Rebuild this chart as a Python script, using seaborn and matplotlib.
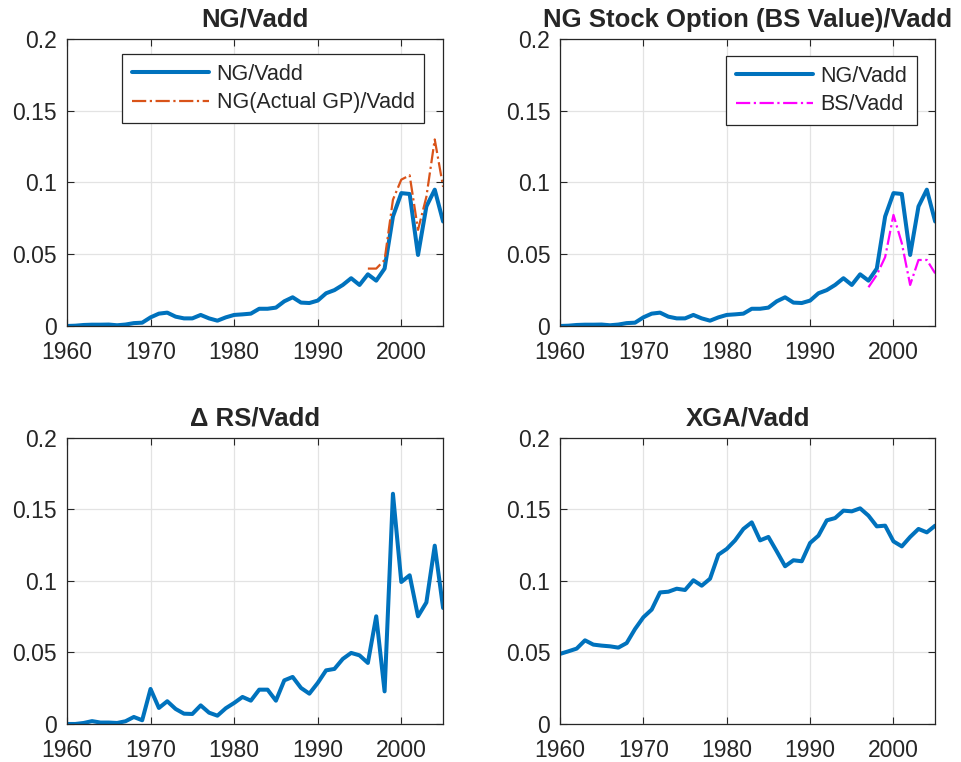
import numpy as np
import pandas as pd
import matplotlib
matplotlib.use("Agg")
import matplotlib.pyplot as plt
import seaborn as sns

# data
years = list(range(1960, 2006))

ng_vadd = [0.0, 0.0002, 0.0007, 0.0009, 0.0009, 0.001, 0.0005, 0.001, 0.002, 0.0023,
           0.006, 0.0086, 0.0093, 0.0065, 0.0053, 0.0053, 0.0077, 0.0053, 0.0037, 0.006,
           0.0077, 0.0081, 0.0086, 0.012, 0.012, 0.0128, 0.0172, 0.020, 0.0163, 0.016,
           0.0177, 0.0228, 0.025, 0.0286, 0.0333, 0.0286, 0.036, 0.0316, 0.040, 0.0763,
           0.0926, 0.092, 0.0495, 0.0833, 0.095, 0.0728]

gp_years = list(range(1996, 2006))
ng_actual_gp = [0.040, 0.040, 0.046, 0.088, 0.102, 0.105, 0.067, 0.090, 0.130, 0.097]

bs_years = list(range(1997, 2006))
bs_vadd = [0.027, 0.0356, 0.048, 0.0774, 0.0577, 0.0286, 0.046, 0.046, 0.0367]

drs_vadd = [0.0, 0.0, 0.0007, 0.002, 0.001, 0.001, 0.0007, 0.0019, 0.0049, 0.0026,
            0.0245, 0.0112, 0.0159, 0.0105, 0.0072, 0.007, 0.013, 0.0079, 0.0058, 0.011,
            0.0147, 0.0189, 0.0163, 0.024, 0.024, 0.0163, 0.0305, 0.0329, 0.0252, 0.0212,
            0.0287, 0.0375, 0.0385, 0.0455, 0.0497, 0.048, 0.0427, 0.0753, 0.0228, 0.161,
            0.0993, 0.104, 0.0753, 0.085, 0.1247, 0.0811]

xga_vadd = [0.049, 0.0508, 0.0527, 0.0585, 0.0555, 0.0548, 0.0543, 0.0534, 0.0566, 0.0664,
            0.0746, 0.080, 0.092, 0.0925, 0.0946, 0.0937, 0.1005, 0.0967, 0.1016, 0.1184,
            0.1224, 0.1284, 0.1364, 0.141, 0.1284, 0.1308, 0.1207, 0.1103, 0.1145, 0.1138,
            0.1266, 0.1317, 0.1424, 0.144, 0.1492, 0.1487, 0.1508, 0.1457, 0.1382, 0.1387,
            0.1277, 0.1242, 0.1308, 0.1364, 0.134, 0.1387]

titles = ["NG/Vadd", "NG Stock Option (BS Value)/Vadd", "\u0394 RS/Vadd", "XGA/Vadd"]
xticks = [1960, 1970, 1980, 1990, 2000]
yticks = [0, 0.05, 0.1, 0.15, 0.2]
ytick_labels = ["0", "0.05", "0.1", "0.15", "0.2"]

BLUE = "#0072BD"
ORANGE = "#D95319"
MAGENTA = "#FF00FF"

sns.set_theme(style="whitegrid")
plt.rcParams["font.family"] = ["Liberation Sans", "DejaVu Sans"]

fig = plt.figure(figsize=(9.62, 7.62), dpi=100)
positions = [
    [0.0696, 0.5722, 0.391, 0.3766],
    [0.5821, 0.5722, 0.390, 0.3766],
    [0.0696, 0.0499, 0.391, 0.3753],
    [0.5821, 0.0499, 0.390, 0.3753],
]
axes = [fig.add_axes(p) for p in positions]

df_main = pd.DataFrame({"year": years, "ng": ng_vadd, "drs": drs_vadd, "xga": xga_vadd})
df_gp = pd.DataFrame({"year": gp_years, "gp": ng_actual_gp})
df_bs = pd.DataFrame({"year": bs_years, "bs": bs_vadd})

lw_main = 2.9
lw_dash = 1.6

# 1. NG/Vadd
ax = axes[0]
sns.lineplot(data=df_main, x="year", y="ng", ax=ax, color=BLUE, lw=lw_main, label="NG/Vadd")
sns.lineplot(data=df_gp, x="year", y="gp", ax=ax, color=ORANGE, lw=lw_dash, ls="-.",
             label="NG(Actual GP)/Vadd")

# 2. NG stock option
ax = axes[1]
sns.lineplot(data=df_main, x="year", y="ng", ax=ax, color=BLUE, lw=lw_main, label="NG/Vadd")
sns.lineplot(data=df_bs, x="year", y="bs", ax=ax, color=MAGENTA, lw=lw_dash, ls="-.",
             label="BS/Vadd")

# 3. delta RS
sns.lineplot(data=df_main, x="year", y="drs", ax=axes[2], color=BLUE, lw=lw_main)

# 4. XGA
sns.lineplot(data=df_main, x="year", y="xga", ax=axes[3], color=BLUE, lw=lw_main)

for ax, title in zip(axes, titles):
    ax.set_xlim(1960, 2005)
    ax.set_ylim(0, 0.2)
    ax.set_xticks(xticks)
    ax.set_yticks(yticks)
    ax.set_yticklabels(ytick_labels)
    ax.set_xlabel("")
    ax.set_ylabel("")
    ax.set_title(title, fontsize=18.5, fontweight="bold", pad=9)
    ax.set_facecolor("white")
    ax.grid(True, color="#e3e3e3", lw=0.9)
    ax.tick_params(axis="both", direction="in", length=5, width=0.8, color="#262626",
                   labelsize=16.5, labelcolor="#262626", top=True, right=True,
                   bottom=True, left=True)
    ax.tick_params(axis="x", pad=11)
    ax.tick_params(axis="y", pad=7)
    for s in ax.spines.values():
        s.set_color("#262626")
        s.set_linewidth(0.9)

leg_kw = dict(fontsize=15.5, frameon=True, fancybox=False, framealpha=1,
              edgecolor="#262626", handlelength=3.6, borderpad=0.45,
              labelspacing=0.35, handletextpad=0.35, borderaxespad=0)
leg = axes[0].legend(loc="upper right", bbox_to_anchor=(0.95, 0.948), **leg_kw)
leg.get_frame().set_linewidth(0.9)
leg = axes[1].legend(loc="upper right", bbox_to_anchor=(0.952, 0.94), **leg_kw)
leg.get_frame().set_linewidth(0.9)

plt.savefig("out.png", dpi=100)
